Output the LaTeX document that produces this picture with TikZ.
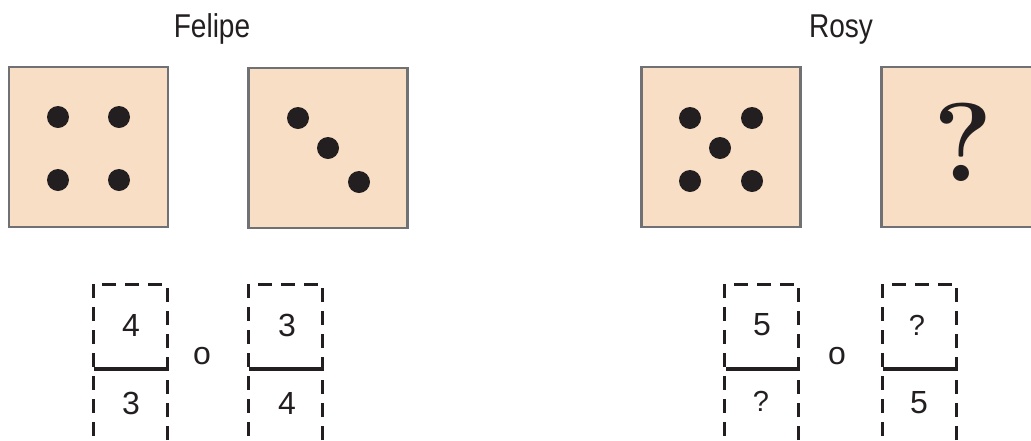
\documentclass[tikz,border=0pt]{standalone}
\usepackage{fontspec}
\newfontfamily\labelfont{Liberation Sans}
\newfontfamily\namefont{Liberation Sans}[FakeStretch=0.85]
\usepackage{tikz}
\usetikzlibrary{positioning}

\definecolor{diefill}{RGB}{249,222,198}
\definecolor{dieline}{RGB}{112,113,116}
\definecolor{pipink}{RGB}{35,31,32}

\begin{document}
\begin{tikzpicture}[
      x=1pt, y=-1pt,
      die/.style={draw=dieline, fill=diefill, line width=2.5pt,
        minimum width=159pt, minimum height=160pt, inner sep=0pt},
      pip/.style={circle, fill=pipink, minimum size=22pt, inner sep=0pt},
      person/.style={font=\namefont\fontsize{33}{33}\selectfont, text=pipink, inner sep=0pt},
      slot/.style={draw=pipink, line width=3pt, dash pattern=on 14pt off 9pt, dash phase=4pt,
        minimum width=74pt, minimum height=170pt, inner sep=0pt},
      num/.style={font=\labelfont\fontsize{32}{32}\selectfont, text=pipink, inner sep=0pt},
      ask/.style={font=\labelfont\fontsize{29}{29}\selectfont, text=pipink, inner sep=0pt},
      bar/.style={draw=pipink, line width=4pt},
    ]
    \useasboundingbox (0,0) rectangle (1031,440);

    % names over each pair of dice
    \node[person, anchor=base] (felipe) at (212,37) {Felipe};
    \node[person, anchor=base] (rosy) at (841,37) {Rosy};

    % Felipe's dice
    \node[die] (fd1) at (88.5,147) {};
    \node[die] (fd2) at (328,148) {};
    \foreach \p [count=\i] in {(58,117),(119,117),(58,180),(119,180)}
      \node[pip] (fp\i) at \p {};
    \foreach \p [count=\i] in {(298,118),(328,148),(359,182)}
      \node[pip] (fq\i) at \p {};

    % Rosy's dice
    \node[die] (rd1) at (721,147) {};
    \node[die] (rd2) at (961,147) {};
    \foreach \p [count=\i] in {(690,118),(752,118),(720,148),(690,181),(752,181)}
      \node[pip] (rp\i) at \p {};
    \node[font=\bfseries\fontsize{112}{112}\selectfont, text=pipink, inner sep=0pt] (rq) at (963,142) {?};

    % fractions for Felipe
    \node[slot] (fa) at (130,369) {};
    \node[slot] (fb) at (285.5,369) {};
    \draw[bar] ([xshift=2pt]fa.west) -- ([xshift=-3pt]fa.east);
    \draw[bar] ([xshift=2pt]fb.west) -- ([xshift=-1pt]fb.east);
    \node[num] (fa-t) at (131,325) {4};
    \node[num] (fa-b) at (131,403) {3};
    \node[num] (fb-t) at (287,325) {3};
    \node[num] (fb-b) at (287,403) {4};
    \node[num] (f-or) at (202,356) {o};

    % fractions for Rosy
    \node[slot] (ra) at (761.5,369) {};
    \node[slot] (rb) at (919.5,369) {};
    \draw[bar] ([xshift=3pt]ra.west) -- ([xshift=-2pt]ra.east);
    \draw[bar] ([xshift=2pt]rb.west) -- ([xshift=-2pt]rb.east);
    \node[num] (ra-t) at (762,325) {5};
    \node[ask] (ra-b) at (761,401) {?};
    \node[ask] (rb-t) at (917,325) {?};
    \node[num] (rb-b) at (919,403) {5};
    \node[num] (r-or) at (837,356) {o};
  \end{tikzpicture}
\end{document}
